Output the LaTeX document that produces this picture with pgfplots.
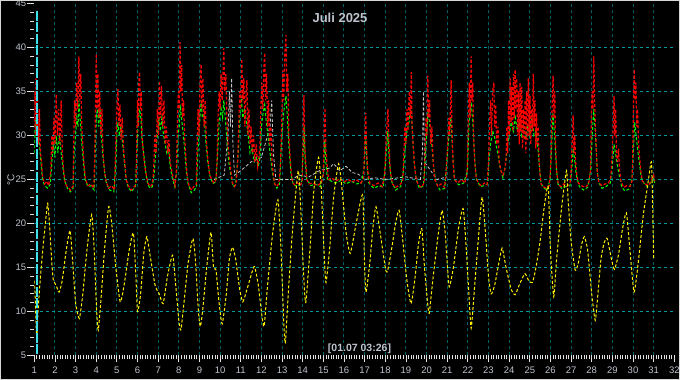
\documentclass[border=0pt]{standalone}
\usepackage{fontspec}
\setmainfont{Liberation Sans}
\usepackage{pgfplots}
\pgfplotsset{compat=1.18}
\definecolor{gridh}{RGB}{0,150,155}
\definecolor{gridv}{RGB}{0,96,100}
\definecolor{labgray}{RGB}{190,196,206}
\definecolor{tickc}{RGB}{225,225,225}
\definecolor{curs}{RGB}{60,225,235}
\definecolor{grn}{RGB}{0,255,0}
\definecolor{wht}{RGB}{200,200,200}
\definecolor{frame}{RGB}{215,215,215}
\begin{document}
\begin{tikzpicture}
\fill[black] (0,0) rectangle (680pt,380pt);
\begin{axis}[
  at={(34.3pt,24.5pt)}, anchor=south west,
  width=640pt, height=352pt, scale only axis,
  xmin=1, xmax=32, ymin=5, ymax=45,
  axis lines*=left,
  axis line style={draw=none},
  xtick={1,...,32}, minor x tick num=7,
  ytick={5,10,...,45}, minor y tick num=4,
  tick align=outside,
  major tick length=7pt, minor tick length=4pt,
  tick style={color=tickc, line width=0.8pt},
  ticklabel style={font=\fontsize{9.5}{10}\selectfont, color=labgray},
  /pgf/number format/assume math mode=true,
  xticklabel style={yshift=-1pt},
  yticklabel style={inner sep=1pt},
]
% grid
\pgfplotsinvokeforeach{2,...,31}{\draw[gridv, dash pattern=on 3pt off 3pt, line width=1pt] (axis cs:#1,5) -- (axis cs:#1,45);}
\pgfplotsinvokeforeach{10,15,...,40}{\draw[gridh, dash pattern=on 3pt off 3pt, line width=1pt] (axis cs:1,#1) -- (axis cs:32,#1);}
% white series
\addplot[wht, line width=0.8pt, dash pattern=on 3pt off 2pt] coordinates {
(9.7,25)(10.2,25.5)(10.38,30)(10.45,35)(10.5,31)(10.56,36.5)(10.62,29)(10.7,25.5)(11.0,26)(11.5,27)(12.0,27.5)(12.42,31)(12.5,34)(12.58,28)(12.7,25)(13.5,25)(13.8,25.5)(14.3,25.3)(14.8,26)(15.3,26.3)(15.5,26.8)(15.8,26)(16.1,26.5)(16.4,25.8)(16.7,25.6)(17.0,25)(17.5,25.2)(18.0,25)(19.0,25.3)(19.7,25)(19.8,28)(19.85,35)(19.9,27)(20.5,25)(21.0,25.3)
};
% green series
\addplot[grn, line width=1pt, dash pattern=on 3pt off 2pt] coordinates {
(1.0,28)(1.04,31)(1.08,32)(1.12,29)(1.18,31)(1.25,29)(1.32,27)(1.4,25)(1.5,24.3)(1.65,24.0)(1.78,24.5)(1.85,27)(1.92,29)(2.0,27.5)(2.06,30)(2.14,28)(2.22,30)(2.3,28)(2.38,26.5)(2.46,25)(2.6,24)(2.75,23.6)(2.88,24)
(2.93,28)(3.0,30)(3.06,32)(3.12,31)(3.16,34)(3.22,32)(3.3,29)(3.38,27)(3.46,25)(3.6,24.2)(3.75,24.3)(3.9,23.8)
(3.95,28)(4.0,32)(4.06,33)(4.12,31)(4.18,33)(4.25,30)(4.33,27.5)(4.42,25.5)(4.5,24.5)(4.65,23.8)(4.85,23.6)
(4.93,26)(5.0,30)(5.05,31.5)(5.12,30)(5.2,31)(5.28,29)(5.36,27)(5.45,25)(5.55,24.1)(5.7,23.6)(5.9,24.2)
(5.95,27)(6.02,31)(6.1,33)(6.16,32)(6.22,29.5)(6.3,28)(6.4,25.8)(6.5,24.4)(6.62,24)(6.72,24.2)
(6.8,25.5)(6.88,28)(6.96,30)(7.04,32)(7.1,30.5)(7.18,32)(7.26,30)(7.34,29)(7.42,28)(7.5,28.5)(7.58,26.5)(7.68,25.2)(7.8,24.2)
(7.9,26)(7.96,30)(8.02,31)(8.07,33.5)(8.13,32)(8.2,30.5)(8.28,28.5)(8.36,26)(8.45,24.5)(8.6,23.5)(8.75,23.8)(8.86,24.2)
(8.92,28)(9.0,31)(9.08,34)(9.14,32)(9.22,32.5)(9.3,29.5)(9.4,27)(9.5,25.5)(9.65,24.5)(9.8,24.8)
(9.88,28)(9.95,31.5)(10.05,33)(10.12,32)(10.18,34)(10.25,32)(10.33,29.5)(10.42,27)(10.52,25.5)(10.62,24.2)(10.75,24.4)
(10.88,28)(10.95,32)(11.02,34.5)(11.1,32)(11.18,33)(11.28,31.5)(11.36,30)(11.45,28)(11.55,28.5)(11.65,27)(11.75,27.5)(11.85,26.5)(11.93,27.5)(12.0,31)(12.08,32.5)(12.16,33.5)(12.24,31.5)(12.32,30)(12.42,28)(12.52,26)(12.62,24.6)(12.75,24)(12.88,24.5)
(12.95,28)(13.02,31)(13.1,33)(13.19,34.5)(13.26,32)(13.34,28.5)(13.44,25.5)(13.55,24.4)(13.75,24.2)(13.95,24.6)(14.03,28.5)(14.07,31)(14.12,27)(14.2,25)(14.4,24.3)(14.6,24.5)(14.85,24.2)(15.02,26)(15.07,29.5)(15.12,27)(15.2,25)(15.4,24.8)(15.6,24.6)(15.85,24.9)(16.1,24.5)(16.35,24.8)(16.6,24.5)(16.85,24.6)(16.98,26.5)(17.05,30)(17.12,26.5)(17.2,24.6)(17.45,24)(17.7,24.3)(17.9,24.1)(18.02,27)(18.12,30.5)(18.2,27)(18.3,24.8)(18.5,23.8)(18.75,24.2)(18.88,26)(18.96,28.5)(19.05,30.5)(19.15,31.5)(19.25,33.5)(19.32,30)(19.4,27)(19.5,25)(19.65,24)(19.85,24.3)(19.95,28)(20.03,31)(20.08,33)(20.16,31)(20.25,29)(20.34,26.5)(20.45,24.7)(20.65,23.8)(20.88,24)(20.98,27)(21.08,30)(21.18,32)(21.25,28.5)(21.35,25)(21.55,24.4)(21.8,24.6)(21.98,26)(22.05,31)(22.12,33)(22.18,33.5)(22.25,31)(22.34,27)(22.42,25)(22.6,24.2)(22.8,24.3)(22.95,24.5)(23.02,27)(23.1,29)(23.2,30.5)(23.28,30)(23.36,29)(23.45,28)(23.55,26.5)(23.7,25.2)(23.82,26.5)(23.9,28.5)(24.0,30)(24.1,31.5)(24.2,30.5)(24.3,32)(24.4,30.5)(24.5,31.5)(24.6,30)(24.7,31)(24.8,29.5)(24.9,31)(25.0,30)(25.1,32)(25.2,30)(25.3,30.5)(25.4,28.5)(25.48,26)(25.55,24.5)(25.7,24)(25.85,23.8)(25.98,25)(26.05,28)(26.12,32.5)(26.2,30)(26.28,26.5)(26.36,24.5)(26.55,24)(26.75,24.2)(26.95,24.3)(27.03,26)(27.1,28.5)(27.16,27.5)(27.25,25.5)(27.4,24.2)(27.6,23.8)(27.8,24.1)(27.95,26)(28.02,30)(28.1,33)(28.18,30)(28.26,26)(28.35,24.6)(28.5,24)(28.7,24.2)(28.9,24.6)(29.0,26.5)(29.08,29)(29.15,28)(29.25,26.5)(29.35,25.3)(29.45,24.2)(29.6,23.7)(29.8,23.9)(29.95,25)(30.03,29)(30.08,31.5)(30.15,30)(30.22,28.5)(30.3,27)(30.4,25.2)(30.55,24.5)(30.7,24.2)(30.85,24.6)(31.0,25.2)(31.05,24.6)
};
% red series
\addplot[red, line width=1.2pt, dash pattern=on 3pt off 2pt] coordinates {
(1.0,31)(1.03,35)(1.06,30)(1.08,36.5)(1.12,31)(1.15,34)(1.2,29)(1.25,33)(1.3,28)(1.35,27)(1.4,25.3)(1.5,24.5)(1.6,24.8)(1.7,24.3)
(1.8,26)(1.85,30)(1.9,28)(1.95,32)(2.0,29)(2.06,34.7)(2.12,30)(2.18,33)(2.24,29)(2.3,34)(2.36,28)(2.42,26)(2.5,24.5)(2.6,24.2)(2.75,23.8)(2.88,24.3)
(2.9,28)(2.95,34)(3.0,31)(3.05,36)(3.1,33)(3.16,39)(3.2,34)(3.25,37)(3.3,31)(3.35,29)(3.4,27)(3.48,25)(3.6,24.3)(3.75,24.5)(3.88,24.0)
(3.92,27)(3.97,34)(4.0,39.3)(4.04,33)(4.08,37)(4.12,32)(4.17,35)(4.22,30)(4.28,33)(4.33,28)(4.4,26)(4.48,24.8)(4.6,24.0)(4.75,24.3)(4.88,23.8)
(4.92,27)(4.97,31)(5.02,34)(5.05,35.3)(5.1,31)(5.15,33.5)(5.2,29.5)(5.26,32)(5.32,28.5)(5.38,27)(5.45,25)(5.55,24.3)(5.7,23.8)(5.85,24.2)(5.93,24.5)
(5.96,29)(6.0,34)(6.03,31)(6.06,36)(6.1,37.2)(6.14,33)(6.18,35)(6.22,30)(6.28,28)(6.35,26.5)(6.42,25.6)(6.5,24.6)(6.62,24.2)(6.72,24.5)
(6.78,26)(6.84,30)(6.9,28)(6.96,33)(7.02,30)(7.06,36.2)(7.1,32)(7.16,35.6)(7.22,31)(7.28,34)(7.34,29)(7.4,31)(7.46,28)(7.52,29.5)(7.58,27)(7.66,26)(7.74,25)(7.82,24.3)
(7.88,26)(7.93,31)(7.98,35)(8.02,33)(8.06,40.6)(8.1,35)(8.14,38)(8.18,32)(8.23,34)(8.28,30)(8.33,28)(8.4,25.5)(8.5,24.2)(8.62,23.8)(8.75,24.3)(8.85,24.5)
(8.88,28)(8.93,33)(8.98,30)(9.03,36)(9.08,38.1)(9.12,33)(9.17,36.5)(9.22,31)(9.28,34)(9.33,29.5)(9.4,27.5)(9.48,25.8)(9.58,25)(9.7,24.6)(9.8,25)
(9.85,27)(9.9,32)(9.95,35)(10.0,33)(10.05,37)(10.1,34)(10.18,39.9)(10.22,35)(10.28,37)(10.33,32)(10.38,29)(10.45,27.5)(10.52,26)(10.6,24.6)(10.7,24.2)(10.78,24.5)
(10.85,27)(10.9,31)(10.95,35)(11.0,33)(11.05,38.7)(11.1,34)(11.15,36.5)(11.2,31)(11.26,35)(11.3,36.3)(11.35,30)(11.4,33)(11.45,29)(11.5,31)(11.56,28)(11.62,30)(11.68,27)(11.75,29)(11.82,26.5)(11.88,27.5)(11.93,28.5)(11.97,33)(12.02,36)(12.07,33)(12.12,37.5)(12.16,39.4)(12.2,34)(12.25,37)(12.3,31)(12.35,34)(12.4,29)(12.46,31)(12.52,27)(12.58,25.5)(12.65,24.5)(12.75,24.2)(12.85,24.6)
(12.93,27)(12.98,31)(13.04,37.4)(13.08,34)(13.13,39)(13.19,41.4)(13.23,35)(13.28,37)(13.33,30)(13.38,28)(13.44,26)(13.5,24.7)(13.6,24.4)(13.75,24.6)(13.9,24.3)(13.98,25)(14.02,30)(14.06,34.6)(14.1,29)(14.14,27.2)(14.2,25)(14.3,24.5)(14.5,24.6)(14.7,24.3)(14.9,24.6)(15.0,25.5)(15.04,30)(15.08,33.1)(15.12,28.5)(15.17,27)(15.25,25)(15.4,25.2)(15.6,24.8)(15.8,25.1)(16.0,24.7)(16.2,25)(16.4,24.7)(16.6,25)
(16.8,24.6)(16.95,25)(17.0,29)(17.05,32.6)(17.1,28)(17.15,26)(17.25,24.6)(17.45,24.3)(17.65,24.6)(17.85,24.2)(17.97,25.5)(18.05,30)(18.13,33)(18.18,29)(18.24,26)(18.35,24.5)(18.5,24.1)(18.7,24.4)(18.85,24.8)(18.9,28)(18.95,31)(19.0,29)(19.05,33)(19.1,30.5)(19.16,35)(19.22,32)(19.26,37.2)(19.3,31)(19.35,29)(19.42,26.5)(19.5,25)(19.6,24.4)(19.75,24.1)(19.88,24.6)(19.93,28)(19.97,32)(20.02,30)(20.06,36.8)(20.1,32)(20.15,34)(20.2,29)(20.26,31)(20.32,27)(20.4,25)(20.55,24.2)(20.7,24.5)(20.87,24.1)(20.95,26)(21.02,29)(21.08,32)(21.12,30)(21.19,36.3)(21.23,31)(21.28,27)(21.35,25)(21.5,24.6)(21.7,25)(21.85,24.6)(21.95,25.5)
(21.98,27)(22.03,33)(22.07,36)(22.11,32)(22.16,39)(22.2,34)(22.24,36)(22.28,30)(22.33,27)(22.4,25.3)(22.5,24.6)(22.65,24.3)(22.8,24.6)(22.93,24.4)
(23.0,27)(23.05,31)(23.1,34)(23.15,30)(23.2,35)(23.26,36)(23.3,31)(23.35,33.5)(23.4,29)(23.46,31)(23.52,27)(23.6,26)(23.7,25.5)(23.8,26.3)
(23.85,27.5)(23.89,31)(23.93,28)(23.97,34)(24.01,30)(24.05,36.5)(24.09,31.5)(24.13,35.5)(24.17,30.5)(24.21,37)(24.25,32)(24.29,37.5)(24.33,33)(24.37,36.5)(24.41,30)(24.45,35)(24.49,29)(24.53,36)(24.57,30.5)(24.61,35.5)(24.65,28.5)(24.69,33)(24.73,29.5)(24.77,34)(24.81,28)(24.85,35)(24.89,29.5)(24.93,36.5)(24.97,30)(25.01,34.5)(25.05,29)(25.09,33)(25.13,30.5)(25.17,37)(25.21,31)(25.25,34)(25.29,28.5)(25.33,32.5)(25.37,29)(25.41,31)(25.45,27)(25.5,25.5)(25.55,24.5)(25.65,24.2)(25.8,24.0)(25.95,24.3)
(26.0,26)(26.05,30)(26.09,34)(26.13,36.8)(26.17,32)(26.21,35)(26.25,29)(26.3,26)(26.38,24.5)(26.5,24.2)(26.65,24.5)(26.8,24.2)(26.95,24.6)
(27.0,26)(27.05,29)(27.1,32.3)(27.14,28)(27.18,30)(27.22,27)(27.28,25.5)(27.35,24.6)(27.5,24.3)(27.7,24.1)(27.85,24.5)
(27.94,26)(27.98,32)(28.02,35)(28.06,33)(28.1,39)(28.14,34)(28.18,31)(28.23,28)(28.28,25.5)(28.35,24.6)(28.5,24.3)(28.65,24.5)(28.8,24.6)(28.9,25)
(28.95,26)(29.0,28.5)(29.04,31)(29.08,34.5)(29.12,30)(29.16,33)(29.2,28)(29.25,27)(29.3,28.5)(29.35,26)(29.42,24.8)(29.55,24.1)(29.7,24.3)(29.85,24.2)(29.95,24.8)
(29.98,27)(30.02,33)(30.06,37.5)(30.1,34)(30.14,36)(30.18,31)(30.22,33)(30.27,29)(30.32,27.5)(30.38,26)(30.45,24.8)(30.6,24.5)(30.75,24.3)(30.9,25)(31.0,25.5)(31.05,24.8)
};
% yellow series
\addplot[yellow, line width=1pt, dash pattern=on 3pt off 2pt, smooth, tension=0.35] coordinates {
(1.00,13.5)(1.04,12.0)(1.08,9.0)(1.12,7.1)(1.18,10)(1.3,14)(1.45,18)(1.6,21.5)(1.65,22.3)(1.72,20.5)(1.85,15.5)(1.92,13.6)(2.05,13.0)(2.2,12.2)(2.35,13.5)(2.55,17)(2.73,19.2)(2.85,16)(3.0,11)(3.18,9.2)(3.35,12)(3.55,17)(3.78,21)(3.9,17)(4.02,10)(4.1,7.9)(4.25,12)(4.4,17)(4.6,21.9)(4.75,20)(4.95,15)(5.16,11.1)(5.35,13)(5.6,17)(5.8,18.9)(5.92,14)(6.0,10)(6.15,12)(6.3,16.5)(6.45,18.5)(6.6,16.5)(6.85,13)(7.05,12)(7.24,10.9)(7.45,14)(7.7,16.4)(7.85,13)(8.0,9)(8.1,7.9)(8.25,11)(8.45,15.5)(8.68,18.3)(8.8,16)(8.95,10)(9.04,8.3)(9.15,10)(9.35,15)(9.56,19)(9.68,15)(9.8,14.7)(9.95,11)(10.1,8.6)(10.3,12)(10.45,16)(10.6,17.3)(10.75,16)(10.95,12.5)(11.1,11.1)(11.3,12.5)(11.55,14.5)(11.67,15.1)(11.85,13)(12.0,10)(12.13,8.3)(12.3,13)(12.55,19)(12.8,22.7)(12.95,17)(13.08,9)(13.16,6.4)(13.3,12)(13.5,19)(13.78,26.0)(13.9,22)(14.05,14)(14.15,11.0)(14.35,17)(14.55,24)(14.77,27.5)(14.9,24)(15.05,16)(15.13,13.3)(15.3,17)(15.5,23)(15.74,26.8)(15.9,24)(16.1,19)(16.3,16.6)(16.55,19.5)(16.8,22.5)(16.92,23)(17.0,15)(17.07,12.2)(17.25,15.5)(17.4,19.5)(17.55,21.9)(17.75,19)(18.0,15)(18.1,14.5)(18.3,17)(18.5,20)(18.67,21.5)(18.85,18)(19.05,13.5)(19.25,10.9)(19.45,14)(19.6,17.5)(19.77,19.4)(19.9,15)(20.05,11)(20.13,9.8)(20.3,13.5)(20.55,18.5)(20.75,21.5)(20.9,19)(21.0,15.5)(21.1,12.8)(21.3,15)(21.55,19.5)(21.77,21.7)(21.9,18)(22.05,12)(22.16,8.1)(22.3,12)(22.5,18)(22.69,23.0)(22.85,19)(23.0,14)(23.13,12.0)(23.3,13)(23.5,15.5)(23.66,17.2)(23.85,15)(24.1,12.5)(24.29,11.9)(24.45,12.8)(24.6,13.6)(24.77,14.3)(24.95,13.5)(25.13,13.3)(25.3,15)(25.5,18)(25.65,21)(25.8,23.5)(25.9,24)(26.0,17)(26.16,11.7)(26.3,16)(26.55,22)(26.78,26.0)(26.85,23)(27.0,18)(27.2,14.7)(27.35,15.5)(27.5,17.5)(27.64,18.5)(27.8,17)(28.0,12)(28.17,9.0)(28.3,12)(28.45,16)(28.6,17.8)(28.75,18.3)(28.95,16)(29.1,14.8)(29.3,16.5)(29.5,19.5)(29.68,21.2)(29.85,17)(30.05,12.2)(30.25,15.5)(30.5,21)(30.75,25)(30.9,26.8)(31.0,16.1)
};
% cursor line
\addplot[curs, line width=1.1pt, dash pattern=on 10pt off 1.5pt] coordinates {(1.13,44.2)(1.13,5)};
\end{axis}
\node[font=\bfseries\fontsize{13}{13}\selectfont, text=labgray] at (340pt,362pt) {Juli 2025};
\node[font=\bfseries\fontsize{10.5}{11}\selectfont, text=labgray] at (359.5pt,31pt) {[01.07 03:26]};
\node[font=\fontsize{10}{10}\selectfont, text=labgray, rotate=90] at (11pt,200pt) {°C};
\draw[frame, line width=1.2pt] (0.6pt,0.6pt) rectangle (679.4pt,379.4pt);
\pgfresetboundingbox
\path (0,0) rectangle (680pt,380pt);
\end{tikzpicture}
\end{document}
